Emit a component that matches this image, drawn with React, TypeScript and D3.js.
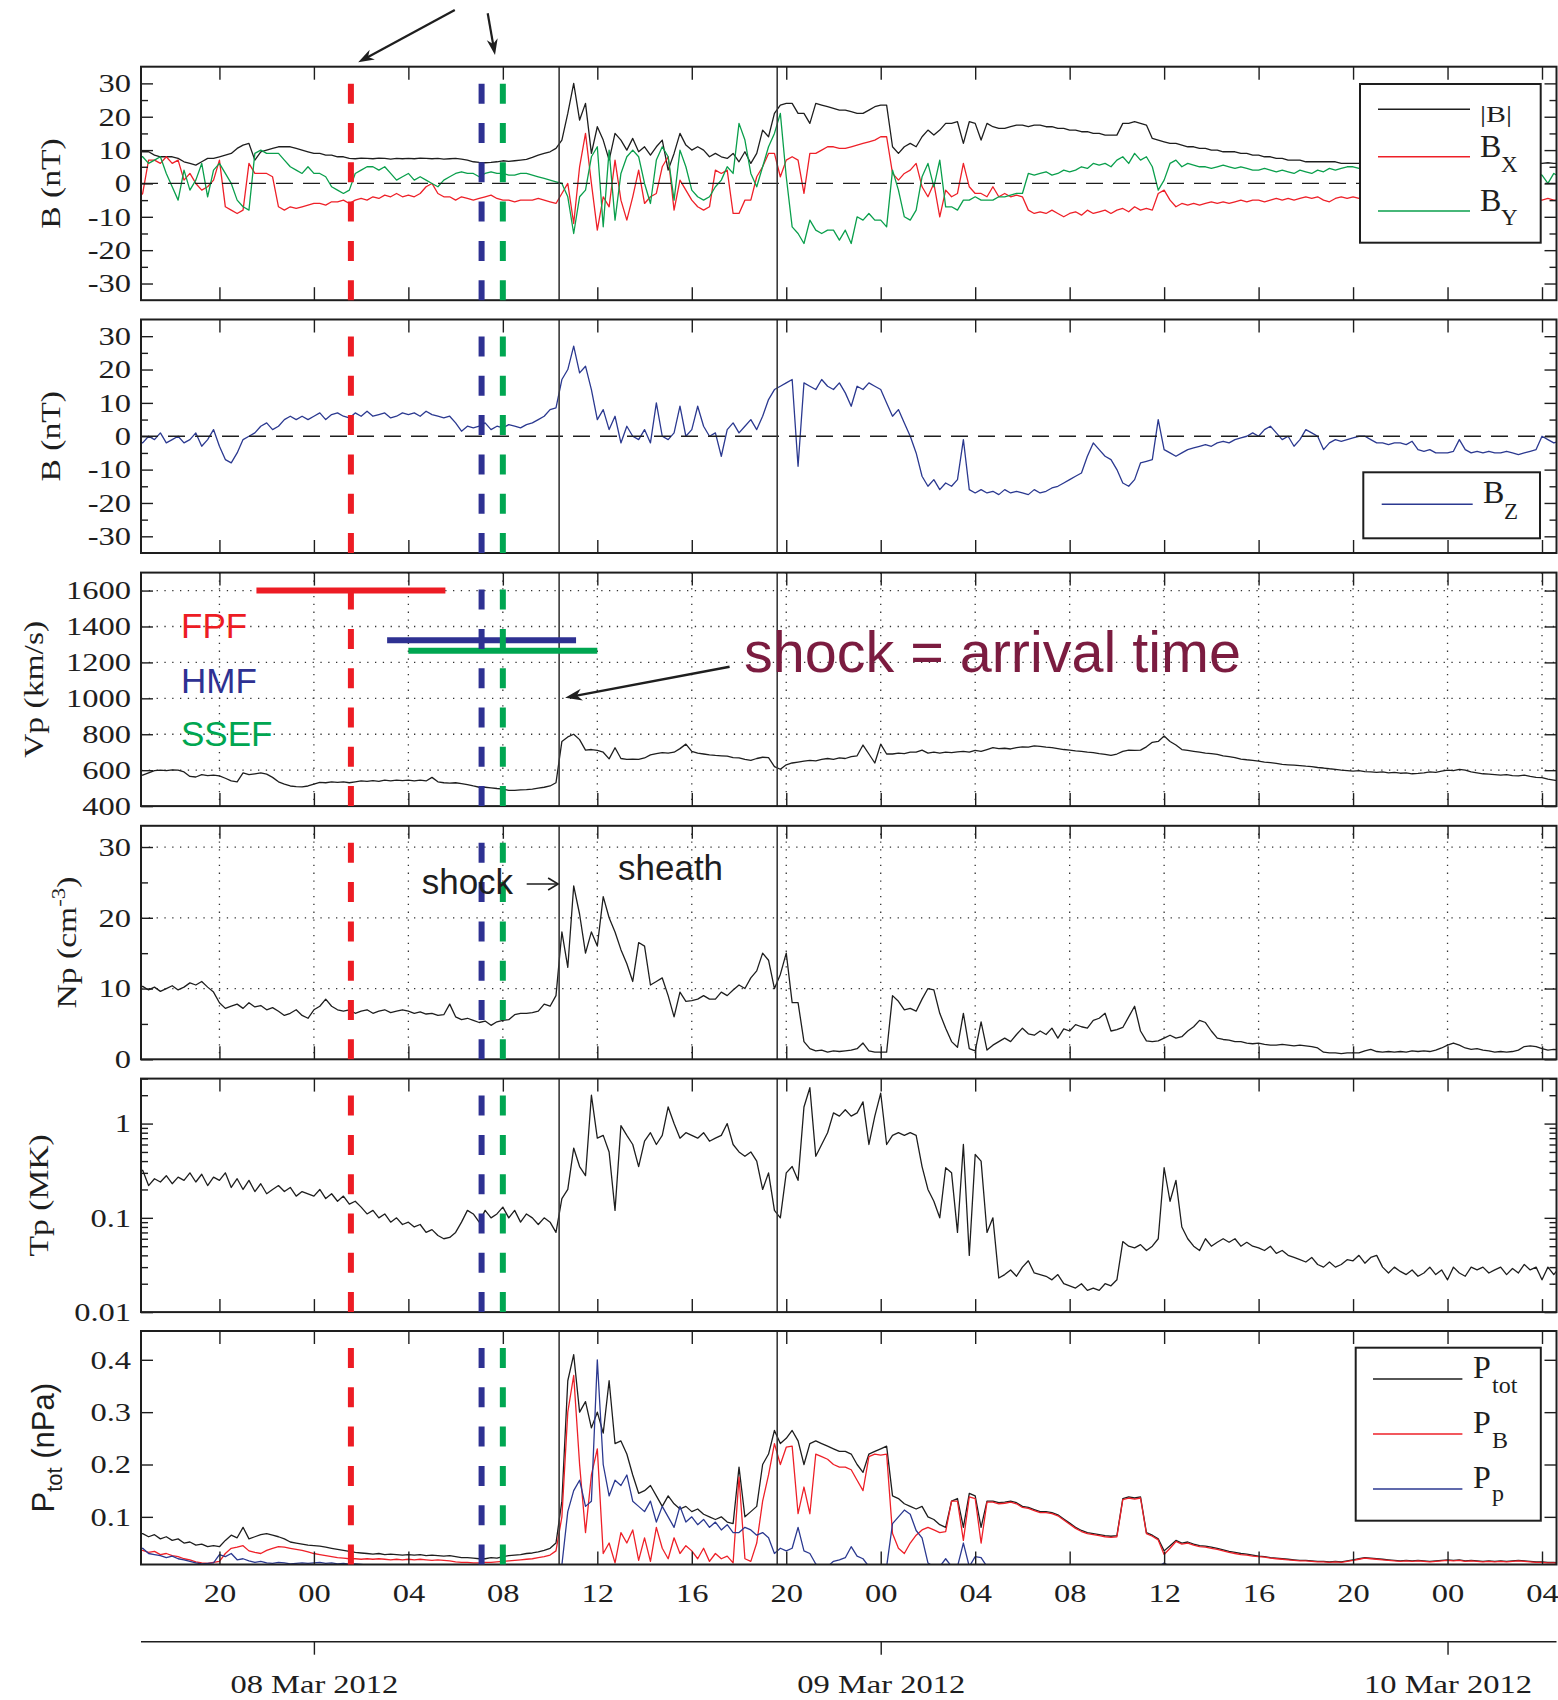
import React, { useEffect, useRef } from 'react';
import * as d3 from 'd3';

// 15-minute samples, first one at 07 Mar 2012 16:00 UT
const sampleStart = Date.UTC(2012, 2, 7, 16, 0);
const sampleStepMin = 15;

// |B| (nT)
const bMag = [
  10, 10, 10, 9.5, 9.5, 8.5, 8, 8, 8, 7.5, 6.5, 6, 5.5, 6.5, 7.5, 7.5,
  8, 8.5, 9, 10.5, 11.5, 12, 7, 9.5, 10, 10.5, 11, 11, 11, 10.5, 10, 9.5,
  9, 9, 8.5, 8.5, 8, 8, 7.5, 7.4, 7.6, 7.5, 7.4, 7.6, 7.5, 7.3, 7.5, 7.4,
  7.5, 7.4, 7.6, 7.5, 7.4, 7.5, 7.3, 7.4, 7.5, 7.3, 7.0, 6.5, 6.3, 6.2, 6.3, 6.5,
  6.8, 6.6, 6.8, 7, 7.2, 7.8, 8.5, 9, 9.5, 10.5, 13, 21, 30, 19, 24, 9,
  17, 13, 7, 15, 13, 10, 13.5, 9.5, 11, 8.5, 11, 13, 4, 9, 15, 11.5,
  10, 11, 10, 8, 9, 8, 7.5, 9, 6.5, 9.5, 6, 9, 16, 14, 21, 23.5,
  24, 24, 21, 21, 18, 24, 23.5, 23, 22.5, 22, 22, 21.5, 21, 21, 22, 23,
  23.5, 23.5, 11, 9, 11, 12, 11, 14, 16, 14.5, 16, 18, 18, 18.5, 12, 18.5,
  18, 13, 18, 17, 16.5, 16.5, 17, 17.5, 17.5, 17, 17.5, 17.5, 17, 17, 16.5, 16.5,
  16, 16, 15.5, 15.5, 15, 15, 14.5, 14.5, 14.5, 18, 18, 18.5, 18, 17.5, 13.5, 13,
  12.5, 12, 12, 11.5, 11, 11, 10.5, 10.5, 10, 10, 9.5, 9.5, 9.5, 9, 9, 8.5,
  8.5, 8, 8, 7.5, 7.5, 7, 7, 7, 6.5, 6.5, 6.5, 6.5, 6.5, 6.5, 6, 6,
  6, 6, 6, 5.8, 5.8, 5.6, 5.6, 5.5, 5.5, 5.4, 5.4, 5.3, 5.3, 5.3, 5.2, 5.2,
  5.2, 5.2, 5.3, 5.3, 5.4, 5.4, 5.5, 5.5, 5.6, 5.6, 5.7, 5.8, 5.8, 5.9, 6, 6,
  6, 6.2, 6, 6, 6,
];

// Bx (nT)
const bX = [
  -5, -5, -5, -3, 7, 7, 6, 8, 6, 7, 1, 3, 0, -2, -1, 1,
  7, -7, -8, -9, -8, 6, 3, 3, 3, 2, -7, -8, -7, -7.5, -7, -6.5,
  -6, -6, -6.5, -5.5, -5.5, -5, -6, -5, -4.5, -5, -4, -4.5, -3.5, -4, -3, -4,
  -3.5, -4, -3, -1, 0, -3, -4, -4, -5, -4, -4.5, -5, -4.5, -4, -3.5, -4.5,
  -5, -5, -5.5, -5, -5, -5, -4.5, -5, -5.5, -6, -3, 0, -12, 5, 15, 0,
  -14, -4, -7, 7, -5, -11, -4, 4, -6, -4, -3, 5, 8, -8, 1, -2,
  -5, -7, -8, -7, 4, 3, 4, -9, -9, -5, -5, 2, 5, 9, 9, 2,
  7, 8, 7, -3, 9, 9, 10, 11, 11, 10.5, 10.5, 11, 11.5, 12, 12.5, 13,
  14, 14, 3, 1, 3, 4, 6, -1, -4, 0, -10, -2, -4, -3, 6, -1,
  -3, -3, -4, -1, -4, -3, -4, -3.5, -4, -8, -9, -8.5, -9, -8, -9, -10,
  -9, -8.5, -9.5, -8, -9, -8.5, -8, -9, -8, -7.5, -8.5, -7, -8, -7.5, -8, -3,
  -2, -5, -7, -6, -6.5, -6, -6.5, -6, -5.5, -6, -5.5, -6, -5.5, -5, -5.5, -5,
  -5, -5.5, -5, -4.5, -5, -4.5, -5, -4.5, -4, -4.5, -4, -5, -5.5, -4.5, -4, -4.5,
  -4, -4.5, -4, -3.5, -4, -3.5, -4, -3.5, -3, -3.5, -3, -3.5, -3, -3.5, -3, -3,
  -3, -3.5, -3, -3.5, -3, -3.5, -4, -3.5, -4, -4.5, -4, -4.5, -5, -4.5, -5, -5,
  -5, -4.5, -5, -5, -5,
];

// By (nT)
const bY = [
  8, 8, 8, 8, 6, 7, 8, 3, -1, -5, 4, -2, 1, 6, -4, 4,
  6, 3, 0, -5, -7, -8, 9, 10, 9, 9, 9, 7, 5, 4, 3, 5,
  3, 3, 2, -1, -2, -3, -2, 3, 4, 5, 5, 4, 5, 3, 1, 2,
  3, 1, 2, 1, 0, -1, 1, 2, 3, 3.5, 3, 3, 2, 3, 3.5, 3,
  3, 2.5, 2.5, 3, 3, 2.5, 2, 1.5, 1, 0.5, 0, -4, -15, -4, -2, 8,
  11, -13, 10, -11, 3, 8, 10, 8, 0, -6, 7, 11, 8, -5, 10, 5,
  -2, -4, -5, -4, -1, 1, 5, 3, 18, 13, 3, -1, 5, 11, 15, 21,
  2, -13, -15, -18, -11, -14, -15, -14, -14, -17, -14, -18, -10, -11, -9, -11,
  -11, -13, 4, -2, -10, -11, -8, 2, 6, -1, 7, -7, -7, -8, -5, -5,
  -4, -5, -5, -5, -4, -4, -3.5, -3, -3, 3, 2.5, 3, 3.5, 2.5, 3, 4,
  3.5, 4, 5, 4.5, 6, 5.5, 6, 5, 7, 8, 6, 9, 7, 8, 5, -2,
  1, 6, 7, 5, 6, 5.5, 5, 5, 4.5, 5, 5.5, 5, 4.5, 5, 4.5, 4,
  4, 4.5, 4, 3.5, 4, 3.5, 3, 4, 3.5, 3, 4, 3.5, 4.5, 4, 4.5, 5,
  5, 4.5, 5, 4.5, 4, 4.5, 4, 4.5, 4, 4.5, 4, 3.5, 4, 3.5, 4, 3.5,
  3.5, 4, 3.5, 4, 3.5, 3, 3.5, 3, 3.5, 3, 2.5, 3, 2.5, 3, 2.5, 3,
  2.5, 0, 3, 2, 2,
];

// Bz (nT)
const bZ = [
  0, 0, -1, -2, 0, -1, 1, -2, -1, 0, -2, -1, 1, -3, -1, 2,
  -3, -7, -8, -5, -1, 0, 1, 3, 4, 2, 3, 5, 6, 5, 6, 5,
  6, 7, 5, 6.5, 7, 6, 5.5, 7, 6, 7.5, 6, 6.5, 7, 5.5, 6, 7,
  6.5, 7, 6, 7.5, 6.5, 6, 5.5, 6, 4, 1.5, 3, 2.5, 3, 4, 2, 3,
  2.5, 3.5, 3, 2.5, 3.5, 4, 5, 6, 8, 8.5, 17, 20, 27, 19, 21, 14,
  5, 8, 2, 6, -2, 3, 0, -1, 2, -2, 10, 0, -1, 1, 9, 0,
  2, 9, 3, 0, 1, -6, 2, 4, 1, 3, 5, 2, 6, 11, 14, 15,
  16, 17, -9, 16, 15, 14, 17, 15, 14, 16, 13, 9, 15, 14, 16, 15,
  14, 10, 6, 8, 4, 0, -5, -12, -15, -13, -16, -14, -15, -13, -1, -16,
  -17, -16, -17, -16.5, -17.5, -16, -17, -16.5, -17, -17.5, -16, -17, -16.5, -15.5, -15, -14,
  -13, -12, -11, -6, -2, -4, -6, -7, -10, -14, -15, -13, -8, -7.5, -7, 5,
  -4, -5, -6, -5, -4, -3.5, -3, -2.5, -3, -2, -1.5, -2, -1, -0.5, 0, 1,
  0, 2, 3, 1, -1, 0, -3, -1, 2, 1, 0, -4, -2, -1, -1.5, -1,
  -0.5, 0, 0, -1, -2, -2, -2.5, -2, -2, -2.5, -1.5, -4, -4.5, -4, -5, -5,
  -5, -4.5, -1, -4, -5, -4.5, -5, -4.5, -5, -5, -4.5, -5, -5.5, -5, -4.5, -4,
  0, -1, -2, -1.5, -1,
];

// proton speed (km/s)
const vP = [
  571, 571, 571, 572, 585, 598, 600, 598, 602, 600, 590, 565, 562, 575, 570, 572,
  568, 555, 540, 535, 585, 575, 580, 585, 578, 560, 535, 522, 512, 508, 507, 512,
  522, 532, 530, 535, 532, 535, 530, 535, 540, 538, 542, 538, 545, 540, 545, 542,
  545, 540, 545, 540, 560, 535, 530, 528, 530, 525, 520, 512, 505, 505, 502, 498,
  495, 488, 487, 490, 492, 495, 500, 505, 512, 530, 760, 785, 800, 770, 712, 715,
  710, 700, 663, 725, 665, 660, 662, 660, 668, 685, 692, 698, 695, 700, 720, 745,
  705, 695, 690, 685, 682, 680, 678, 670, 668, 660, 655, 665, 672, 670, 620, 605,
  630, 640, 645, 650, 655, 652, 660, 665, 660, 668, 665, 675, 680, 740, 690, 640,
  745, 690, 690, 695, 692, 700, 700, 712, 695, 700, 695, 700, 698, 702, 705, 700,
  710, 705, 715, 725, 720, 722, 718, 725, 730, 728, 735, 732, 728, 725, 720, 715,
  712, 708, 705, 700, 698, 692, 688, 682, 690, 705, 712, 710, 712, 730, 755, 760,
  790, 760, 740, 715, 710, 705, 700, 695, 692, 688, 680, 675, 670, 662, 658, 655,
  650, 645, 642, 638, 632, 630, 628, 625, 622, 620, 615, 612, 608, 605, 600, 598,
  595, 598, 592, 590, 588, 590, 585, 588, 583, 585, 580, 582, 585, 590, 588, 595,
  600, 598, 605, 600, 590, 585, 580, 578, 575, 572, 575, 570, 568, 572, 565, 560,
  558, 550, 545, 540, 540,
];

// proton density (cm^-3)
const nP = [
  10, 10, 10, 10.3, 9.8, 10.2, 9.6, 10, 10.4, 9.8, 10.2, 10.8, 10.5, 11, 10.2, 9.5,
  8, 7.2, 7.5, 7.8, 7.2, 8, 7.4, 7.6, 7, 7.3, 6.8, 6.2, 6.5, 7, 6.2, 5.8,
  7, 7.5, 8.5, 7.5, 7, 6.8, 7, 6.5, 6.8, 7, 6.5, 6.8, 7, 6.6, 6.8, 7,
  6.8, 6.5, 6.7, 6.4, 6.5, 6.2, 6.3, 7.8, 6, 5.6, 5.8, 5.5, 5.2, 5.4, 4.8, 5.3,
  5.5, 5.6, 6.3, 6.5, 6.5, 6.6, 6.8, 7.8, 7.5, 9, 18, 13, 24.5, 20.5, 15, 18,
  16, 23, 20, 18, 15.5, 13.5, 11, 16.5, 16, 10.5, 11, 11.5, 9, 6, 9.5, 8.2,
  8.3, 8.5, 9, 8.5, 8.5, 9.5, 9, 9.8, 10.5, 10, 11.5, 12.5, 15, 14, 10, 12,
  15, 8, 8, 2.5, 1.5, 1.2, 1.3, 1.0, 1.2, 1.1, 1.2, 1.3, 1.5, 2.3, 1.2, 1.0,
  1.0, 1.0, 9, 8.2, 7, 7.2, 6.8, 8.5, 10, 9.8, 6.5, 4.4, 2.5, 1.7, 6.5, 1.5,
  1.2, 5.3, 1.3, 2.0, 2.5, 3, 2.5, 3.5, 4.4, 3.6, 3.4, 4, 3.5, 4.4, 3, 4.3,
  4, 4.9, 4.6, 4.4, 5.5, 5.8, 6.5, 4, 4.2, 4.5, 6, 7.5, 4, 2.6, 2.5, 2.6,
  3, 3.4, 3, 3.2, 4, 4.6, 5.5, 5.2, 4.0, 3, 2.8, 2.7, 2.5, 2.5, 2.3, 2.2,
  2.3, 2.1, 2.0, 2.0, 2.1, 2.0, 1.9, 2.0, 1.9, 1.8, 1.6, 1.0, 0.9, 0.9, 0.8, 0.9,
  0.9, 0.9, 1.2, 1.4, 1.1, 1.0, 1.1, 1.0, 1.1, 1.0, 1.2, 1.1, 1.2, 1.1, 1.3, 1.6,
  2.0, 2.3, 2.0, 1.6, 1.4, 1.5, 1.3, 1.2, 1.0, 1.1, 1.0, 1.1, 1.3, 1.8, 1.9, 1.8,
  1.5, 1.3, 1.4, 1.3, 1.3,
];

// proton temperature (MK)
const tP = [
  0.3, 0.3, 0.3, 0.32, 0.22, 0.26, 0.24, 0.28, 0.23, 0.27, 0.25, 0.3, 0.24, 0.29, 0.22, 0.27,
  0.25, 0.3, 0.21, 0.26, 0.2, 0.25, 0.19, 0.23, 0.18, 0.2, 0.22, 0.19, 0.21, 0.17, 0.19, 0.18,
  0.17, 0.2, 0.16, 0.18, 0.15, 0.17, 0.14, 0.15, 0.13, 0.11, 0.12, 0.1, 0.11, 0.09, 0.1, 0.085,
  0.09, 0.08, 0.085, 0.07, 0.075, 0.065, 0.06, 0.062, 0.07, 0.09, 0.12, 0.11, 0.09, 0.12, 0.1, 0.11,
  0.13, 0.1, 0.12, 0.09, 0.11, 0.1, 0.085, 0.1, 0.09, 0.07, 0.16, 0.2, 0.55, 0.35, 0.28, 2.0,
  0.7, 0.75, 0.5, 0.12, 0.95, 0.75, 0.6, 0.35, 0.65, 0.8, 0.6, 0.75, 1.5, 1.0, 0.7, 0.8,
  0.75, 0.7, 0.8, 0.65, 0.7, 0.75, 1.0, 0.6, 0.5, 0.45, 0.5, 0.4, 0.2, 0.3, 0.12, 0.1,
  0.3, 0.35, 0.25, 1.5, 2.4, 0.45, 0.6, 0.8, 1.3, 1.2, 1.4, 1.2, 1.3, 1.7, 0.6, 1.2,
  2.1, 0.6, 0.75, 0.8, 0.75, 0.8, 0.75, 0.35, 0.2, 0.15, 0.1, 0.34, 0.3, 0.07, 0.6, 0.04,
  0.47, 0.4, 0.07, 0.1, 0.023, 0.025, 0.028, 0.024, 0.03, 0.035, 0.026, 0.025, 0.024, 0.022, 0.025, 0.02,
  0.019, 0.018, 0.02, 0.017, 0.018, 0.017, 0.02, 0.019, 0.022, 0.056, 0.05, 0.048, 0.052, 0.045, 0.05, 0.06,
  0.34, 0.15, 0.25, 0.08, 0.06, 0.05, 0.045, 0.06, 0.05, 0.055, 0.06, 0.055, 0.06, 0.05, 0.055, 0.05,
  0.048, 0.045, 0.05, 0.042, 0.045, 0.04, 0.038, 0.036, 0.034, 0.038, 0.032, 0.03, 0.034, 0.03, 0.032, 0.036,
  0.035, 0.04, 0.033, 0.038, 0.04, 0.03, 0.026, 0.03, 0.027, 0.025, 0.028, 0.024, 0.026, 0.03, 0.025, 0.028,
  0.022, 0.03, 0.026, 0.024, 0.03, 0.028, 0.03, 0.026, 0.028, 0.03, 0.025, 0.029, 0.026, 0.032, 0.028, 0.03,
  0.022, 0.03, 0.025, 0.03, 0.028,
];

// total, magnetic and plasma pressure (nPa)
const pTot = [
  0.068, 0.068, 0.068, 0.068, 0.062, 0.066, 0.058, 0.062, 0.055, 0.058, 0.05, 0.052, 0.046, 0.048, 0.043, 0.045,
  0.043, 0.055, 0.065, 0.06, 0.08, 0.058, 0.062, 0.066, 0.068, 0.065, 0.062, 0.058, 0.052, 0.05, 0.048, 0.046,
  0.045, 0.044, 0.042, 0.04, 0.038, 0.036, 0.034, 0.032, 0.031, 0.03, 0.029, 0.03, 0.028, 0.029, 0.028, 0.027,
  0.028, 0.027, 0.028, 0.026, 0.027, 0.026, 0.025, 0.026, 0.024, 0.022, 0.022, 0.021, 0.02, 0.02, 0.022, 0.021,
  0.024, 0.026, 0.027, 0.028, 0.03, 0.031, 0.033, 0.036, 0.04, 0.05, 0.13, 0.36, 0.41, 0.3, 0.32, 0.27,
  0.3, 0.26, 0.36, 0.24, 0.245, 0.22, 0.18, 0.145, 0.15, 0.16, 0.14, 0.12, 0.14, 0.125, 0.115, 0.12,
  0.11, 0.115, 0.105, 0.1, 0.095, 0.1, 0.09, 0.087, 0.195, 0.1, 0.11, 0.12, 0.2, 0.22, 0.265, 0.24,
  0.25, 0.265, 0.245, 0.2, 0.24, 0.245, 0.24, 0.235, 0.23, 0.225, 0.225, 0.22, 0.2, 0.185, 0.22, 0.225,
  0.23, 0.235, 0.14, 0.135, 0.125, 0.12, 0.115, 0.12, 0.1, 0.095, 0.085, 0.08, 0.13, 0.135, 0.08, 0.145,
  0.14, 0.08, 0.13, 0.13, 0.127, 0.128, 0.13, 0.127, 0.12, 0.118, 0.114, 0.11, 0.11, 0.108, 0.104, 0.096,
  0.088, 0.08, 0.074, 0.07, 0.068, 0.066, 0.064, 0.063, 0.064, 0.135, 0.138, 0.136, 0.138, 0.07, 0.065, 0.058,
  0.035, 0.045, 0.055, 0.05, 0.052, 0.048, 0.045, 0.044, 0.042, 0.04, 0.037, 0.034, 0.032, 0.03, 0.029, 0.027,
  0.025, 0.024, 0.022, 0.021, 0.02, 0.019, 0.018, 0.017, 0.017, 0.016, 0.015, 0.015, 0.014, 0.015, 0.014, 0.016,
  0.018, 0.02, 0.022, 0.021, 0.02, 0.019, 0.018, 0.017, 0.016, 0.017, 0.016, 0.017, 0.016, 0.015, 0.016, 0.017,
  0.018, 0.017, 0.018, 0.016, 0.017, 0.016, 0.015, 0.016, 0.015, 0.016, 0.015, 0.016, 0.017, 0.016, 0.015, 0.014,
  0.014, 0.013, 0.013, 0.012, 0.012,
];

const pB = [
  0.036, 0.036, 0.036, 0.036, 0.032, 0.034, 0.028, 0.03, 0.026, 0.024, 0.02, 0.018, 0.014, 0.012, 0.011, 0.013,
  0.015, 0.03, 0.04, 0.042, 0.045, 0.035, 0.032, 0.03, 0.036, 0.04, 0.043, 0.042, 0.04, 0.038, 0.036, 0.033,
  0.03, 0.028, 0.026, 0.024, 0.022, 0.021, 0.02, 0.02, 0.019, 0.02, 0.019, 0.02, 0.019, 0.018, 0.019, 0.018,
  0.019, 0.018, 0.019, 0.018, 0.017, 0.018, 0.017, 0.016, 0.014, 0.013, 0.013, 0.012, 0.012, 0.013, 0.013, 0.014,
  0.015, 0.016, 0.017, 0.018, 0.019, 0.02, 0.022, 0.024, 0.027, 0.035, 0.1, 0.3, 0.37, 0.2, 0.07, 0.18,
  0.23, 0.03, 0.05, 0.012, 0.07, 0.05, 0.075, 0.017, 0.06, 0.015, 0.08, 0.04, 0.02, 0.06, 0.03, 0.045,
  0.035, 0.02, 0.04, 0.015, 0.03, 0.02, 0.025, 0.012, 0.176, 0.02, 0.015, 0.05, 0.13, 0.18, 0.24, 0.2,
  0.233, 0.235, 0.106, 0.157, 0.106, 0.22, 0.215, 0.21, 0.2, 0.195, 0.195, 0.19, 0.17, 0.15, 0.215, 0.22,
  0.218, 0.22, 0.068, 0.04, 0.03, 0.05, 0.065, 0.075, 0.08, 0.075, 0.07, 0.072, 0.13, 0.13, 0.055, 0.138,
  0.135, 0.05, 0.128, 0.128, 0.125, 0.126, 0.128, 0.125, 0.118, 0.116, 0.112, 0.108, 0.108, 0.106, 0.102, 0.094,
  0.086, 0.078, 0.072, 0.068, 0.066, 0.064, 0.062, 0.061, 0.062, 0.133, 0.136, 0.134, 0.136, 0.068, 0.063, 0.056,
  0.028, 0.04, 0.053, 0.048, 0.05, 0.046, 0.043, 0.042, 0.04, 0.038, 0.035, 0.032, 0.03, 0.028, 0.027, 0.025,
  0.024, 0.023, 0.021, 0.02, 0.019, 0.018, 0.017, 0.016, 0.016, 0.015, 0.014, 0.014, 0.013, 0.014, 0.013, 0.015,
  0.017, 0.019, 0.021, 0.02, 0.019, 0.018, 0.017, 0.016, 0.015, 0.016, 0.015, 0.016, 0.015, 0.014, 0.015, 0.016,
  0.017, 0.016, 0.017, 0.015, 0.016, 0.015, 0.014, 0.015, 0.014, 0.015, 0.014, 0.015, 0.016, 0.015, 0.014, 0.013,
  0.013, 0.012, 0.012, 0.011, 0.011,
];

const pP = [
  0.035, 0.035, 0.035, 0.04, 0.03, 0.028, 0.026, 0.022, 0.025, 0.02, 0.018, 0.015, 0.012, 0.01, 0.011, 0.012,
  0.028, 0.024, 0.03, 0.018, 0.02, 0.016, 0.013, 0.015, 0.012, 0.011, 0.013, 0.012, 0.01, 0.011, 0.012, 0.011,
  0.012, 0.013, 0.011, 0.012, 0.01, 0.011, 0.0095, 0.01, 0.009, 0.008, 0.007, 0.006, 0.006, 0.005, 0.005, 0.005,
  0.005, 0.005, 0.005, 0.005, 0.005, 0.005, 0.005, 0.005, 0.005, 0.005, 0.005, 0.005, 0.005, 0.005, 0.005, 0.005,
  0.005, 0.005, 0.005, 0.005, 0.005, 0.005, 0.005, 0.005, 0.005, 0.005, 0.008, 0.11, 0.15, 0.17, 0.12, 0.13,
  0.4, 0.2, 0.14, 0.17, 0.16, 0.18, 0.13, 0.12, 0.11, 0.13, 0.09, 0.12, 0.1, 0.08, 0.12, 0.09,
  0.1, 0.085, 0.095, 0.08, 0.09, 0.075, 0.085, 0.07, 0.07, 0.08, 0.075, 0.065, 0.07, 0.06, 0.03, 0.04,
  0.035, 0.04, 0.08, 0.035, 0.03, 0.01, 0.005, 0.005, 0.015, 0.018, 0.022, 0.043, 0.025, 0.02, 0.005, 0.005,
  0.005, 0.005, 0.087, 0.1, 0.113, 0.105, 0.074, 0.06, 0.012, 0.005, 0.005, 0.02, 0.005, 0.005, 0.05, 0.005,
  0.024, 0.022, 0.005, 0.005, 0.005, 0.005, 0.005, 0.005, 0.005, 0.005, 0.005, 0.005, 0.005, 0.005, 0.005, 0.005,
  0.005, 0.005, 0.005, 0.005, 0.005, 0.005, 0.005, 0.005, 0.005, 0.005, 0.005, 0.005, 0.005, 0.005, 0.005, 0.005,
  0.012, 0.005, 0.005, 0.005, 0.005, 0.005, 0.005, 0.005, 0.005, 0.005, 0.005, 0.005, 0.005, 0.005, 0.005, 0.005,
  0.005, 0.005, 0.005, 0.005, 0.005, 0.005, 0.005, 0.005, 0.005, 0.005, 0.005, 0.005, 0.005, 0.005, 0.005, 0.005,
  0.005, 0.005, 0.005, 0.005, 0.005, 0.005, 0.005, 0.005, 0.005, 0.005, 0.005, 0.005, 0.005, 0.005, 0.005, 0.005,
  0.005, 0.005, 0.005, 0.005, 0.005, 0.005, 0.005, 0.005, 0.005, 0.005, 0.005, 0.005, 0.005, 0.005, 0.005, 0.005,
  0.005, 0.005, 0.005, 0.005, 0.005,
];

// predicted arrivals (dashed lines) and their +-4 h windows drawn in the Vp panel
const modelNames = ['FPF', 'HMF', 'SSEF'];
const modelTimes = [Date.UTC(2012, 2, 8, 1, 34), Date.UTC(2012, 2, 8, 7, 6), Date.UTC(2012, 2, 8, 8, 0)];
const modelBarSpeeds = [1600, 1323, 1265];
const modelColors = ['#ed1c24', '#2e3192', '#00a651'];
const windowHours = 4;

// observed shock and second discontinuity
const shockTimes = [Date.UTC(2012, 2, 8, 10, 23), Date.UTC(2012, 2, 8, 19, 37)];
const dayTicks = [Date.UTC(2012, 2, 8), Date.UTC(2012, 2, 9), Date.UTC(2012, 2, 10)];

const viewStart = Date.UTC(2012, 2, 7, 16, 40, 44);
const viewEnd = Date.UTC(2012, 2, 10, 4, 36, 50);

const plotLeft = 141;
const plotRight = 1556.5;
const panelTops = [66.7, 319.5, 572.6, 825.8, 1078.6, 1331];
const panelH = 233.5;

const serif = "'Liberation Serif', 'Times New Roman', serif";
const sans = "'Liberation Sans', Arial, sans-serif";
const ink = '#1e1e1e';

const SolarWindPanels = () => {
  const svgRef = useRef(null);

  useEffect(() => {
    const svg = d3.select(svgRef.current);
    svg.selectAll('*').remove();

    const pw = plotRight - plotLeft;
    const x = d3.scaleUtc().domain([new Date(viewStart), new Date(viewEnd)]).range([0, pw]);
    const at = (i) => new Date(sampleStart + i * sampleStepMin * 60000);
    const hourTicks = x.ticks(d3.utcHour.every(4));
    const num = (d) => String(d);

    const logY = d3.scaleLog().domain([0.01, 3]).range([panelH, 0]);
    const isDecade = (v) => Math.abs(Math.log10(v) - Math.round(Math.log10(v))) < 1e-9;

    const panels = [
      {
        y: d3.scaleLinear().domain([-35, 35]).range([panelH, 0]),
        major: [-30, -20, -10, 0, 10, 20, 30], minor: [-25, -15, -5, 5, 15, 25],
        series: [[bMag, ink], [bX, '#ee2028'], [bY, '#0a9f4c']], zero: true, grid: false,
      },
      {
        y: d3.scaleLinear().domain([-35, 35]).range([panelH, 0]),
        major: [-30, -20, -10, 0, 10, 20, 30], minor: [-25, -15, -5, 5, 15, 25],
        series: [[bZ, '#2b3990']], zero: true, grid: false,
      },
      {
        y: d3.scaleLinear().domain([400, 1700]).range([panelH, 0]),
        major: [400, 600, 800, 1000, 1200, 1400, 1600], minor: [],
        series: [[vP, ink]], zero: false, grid: true,
      },
      {
        y: d3.scaleLinear().domain([0, 33]).range([panelH, 0]),
        major: [0, 10, 20, 30], minor: [5, 15, 25],
        series: [[nP, ink]], zero: false, grid: true,
      },
      {
        y: logY,
        major: logY.ticks().filter(isDecade), minor: logY.ticks().filter((v) => !isDecade(v)),
        series: [[tP, ink]], zero: false, grid: false,
      },
      {
        y: d3.scaleLinear().domain([0.009, 0.455]).range([panelH, 0]),
        major: [0.1, 0.2, 0.3, 0.4], minor: [],
        series: [[pTot, ink], [pB, '#ee2028'], [pP, '#2b3990']], zero: false, grid: false,
      },
    ];

    const styleAxis = (sel) => {
      sel.attr('font-family', serif).attr('font-size', 26);
      sel.select('.domain').remove();
      sel.selectAll('.tick line').attr('stroke', ink).attr('stroke-width', 1.4);
      sel.selectAll('.tick text').attr('fill', ink).attr('transform', 'scale(1.25,1)');
    };

    panels.forEach((p, k) => {
      const g = svg.append('g').attr('transform', `translate(${plotLeft},${panelTops[k]})`);
      const y = p.y;
      const clipId = `panel-clip-${k}`;
      g.append('clipPath').attr('id', clipId)
        .append('rect').attr('width', pw).attr('height', panelH);

      // dotted grid
      if (p.grid) {
        const grid = g.append('g')
          .attr('stroke', '#333').attr('stroke-width', 1.3).attr('stroke-dasharray', '1.3 6.5');
        hourTicks.forEach((d) => {
          grid.append('line').attr('x1', x(d)).attr('x2', x(d)).attr('y1', 0).attr('y2', panelH);
        });
        p.major.filter((v) => y(v) > 2 && y(v) < panelH - 2).forEach((v) => {
          grid.append('line').attr('x1', 0).attr('x2', pw).attr('y1', y(v)).attr('y2', y(v));
        });
      }

      // data
      const lines = g.append('g').attr('clip-path', `url(#${clipId})`);
      p.series.forEach(([vals, color]) => {
        const line = d3.line().x((_, i) => x(at(i))).y((d) => y(d));
        lines.append('path')
          .attr('d', line(vals))
          .attr('fill', 'none')
          .attr('stroke', color)
          .attr('stroke-width', 1.3)
          .attr('stroke-linejoin', 'round');
      });

      if (p.zero) {
        g.append('line')
          .attr('x1', 0).attr('x2', pw).attr('y1', y(0)).attr('y2', y(0))
          .attr('stroke', ink).attr('stroke-width', 1.3).attr('stroke-dasharray', '17 10');
      }

      shockTimes.forEach((s) => {
        g.append('line')
          .attr('x1', x(new Date(s))).attr('x2', x(new Date(s)))
          .attr('y1', 0).attr('y2', panelH)
          .attr('stroke', '#3a3a3a').attr('stroke-width', 1.6);
      });

      // axes
      g.append('g').call(d3.axisLeft(y).tickValues(p.major).tickSize(-12).tickPadding(8).tickFormat(num)).call(styleAxis);
      if (p.minor.length) {
        g.append('g').call(d3.axisLeft(y).tickValues(p.minor).tickSize(-7).tickFormat(() => '')).call(styleAxis);
        g.append('g').attr('transform', `translate(${pw},0)`)
          .call(d3.axisRight(y).tickValues(p.minor).tickSize(-7).tickFormat(() => '')).call(styleAxis);
      }
      g.append('g').attr('transform', `translate(${pw},0)`)
        .call(d3.axisRight(y).tickValues(p.major).tickSize(-12).tickFormat(() => '')).call(styleAxis);
      g.append('g').call(d3.axisTop(x).tickValues(hourTicks).tickSize(-13).tickFormat(() => '')).call(styleAxis);
      g.append('g').attr('transform', `translate(0,${panelH})`)
        .call(d3.axisBottom(x).tickValues(hourTicks).tickSize(-13).tickPadding(19)
          .tickFormat(k === panels.length - 1 ? d3.utcFormat('%H') : () => ''))
        .call(styleAxis);

      g.append('rect')
        .attr('width', pw).attr('height', panelH)
        .attr('fill', 'none').attr('stroke', ink).attr('stroke-width', 2);

      // prediction windows in the speed panel
      if (k === 2) {
        modelTimes.forEach((mt, j) => {
          const hw = windowHours * 3600000;
          g.append('line')
            .attr('x1', x(new Date(mt - hw))).attr('x2', x(new Date(mt + hw)))
            .attr('y1', y(modelBarSpeeds[j])).attr('y2', y(modelBarSpeeds[j]))
            .attr('stroke', modelColors[j]).attr('stroke-width', 6);
        });
      }

      // predicted arrival times
      modelTimes.forEach((mt, j) => {
        g.append('line')
          .attr('x1', x(new Date(mt))).attr('x2', x(new Date(mt)))
          .attr('y1', panelH).attr('y2', 0)
          .attr('stroke', modelColors[j]).attr('stroke-width', 6)
          .attr('stroke-dasharray', '20 19.3');
      });
    });

    // date axis
    const dateAxis = svg.append('g').attr('transform', `translate(${plotLeft},1641.7)`);
    dateAxis.append('line').attr('x1', 0).attr('x2', pw).attr('stroke', ink).attr('stroke-width', 1.6);
    dateAxis.append('g')
      .call(d3.axisBottom(x).tickValues(dayTicks.map((d) => new Date(d))).tickSize(13).tickPadding(20)
        .tickFormat(d3.utcFormat('%d %b %Y')))
      .call(styleAxis);

    // y labels
    const yLabel = (cx, cy, family, size, parts) => {
      const txt = svg.append('g')
        .attr('transform', `translate(${cx},${cy}) rotate(-90) scale(${family === serif ? 1.2 : 1},1)`)
        .append('text')
        .attr('text-anchor', 'middle')
        .attr('font-family', family)
        .attr('font-size', size)
        .attr('fill', ink);
      parts.forEach(([s, dy, fs]) => {
        const t = txt.append('tspan').text(s);
        if (dy) t.attr('dy', dy);
        if (fs) t.attr('font-size', fs);
      });
    };
    const mid = (k) => panelTops[k] + panelH / 2;
    yLabel(60, mid(0), serif, 28, [['B (nT)']]);
    yLabel(60, mid(1), serif, 28, [['B (nT)']]);
    yLabel(43, mid(2), serif, 28, [['Vp (km/s)']]);
    yLabel(76, mid(3), serif, 28, [['Np (cm'], ['-3', -11, 19], [')', 11]]);
    yLabel(48, mid(4), serif, 28, [['Tp (MK)']]);
    yLabel(54, mid(5), sans, 31, [['P'], ['tot', 8, 22], [' (nPa)', -8, 31]]);

    // legends
    const legendBox = (x0, y0, x1, y1) => {
      svg.append('rect')
        .attr('x', x0).attr('y', y0).attr('width', x1 - x0).attr('height', y1 - y0)
        .attr('fill', '#fff').attr('stroke', ink).attr('stroke-width', 2);
    };
    const legendLine = (x0, x1, yy, color) => {
      svg.append('line').attr('x1', x0).attr('x2', x1).attr('y1', yy).attr('y2', yy)
        .attr('stroke', color).attr('stroke-width', 1.5);
    };
    const legendText = (lx, ly, s, size, sx = 1) => {
      svg.append('g').attr('transform', `translate(${lx},${ly}) scale(${sx},1)`)
        .append('text').attr('font-family', serif).attr('font-size', size).attr('fill', ink).text(s);
    };

    legendBox(1360, 84, 1540.7, 242.7);
    legendLine(1378, 1470, 109.3, ink);
    legendLine(1378, 1470, 156.7, '#ee2028');
    legendLine(1378, 1470, 211, '#0a9f4c');
    legendText(1480, 121.7, '|B|', 23, 1.3);
    legendText(1480, 156.7, 'B', 32);
    legendText(1501, 171.7, 'X', 23);
    legendText(1480, 210.7, 'B', 32);
    legendText(1501, 225, 'Y', 23);

    legendBox(1363.3, 472.3, 1540, 538.3);
    legendLine(1381.7, 1472.7, 504.3, '#2b3990');
    legendText(1483, 503.3, 'B', 32);
    legendText(1504, 519, 'Z', 23);

    legendBox(1355.7, 1347.7, 1540.8, 1520.7);
    legendLine(1373, 1462.4, 1379, ink);
    legendLine(1373, 1462.4, 1434, '#ee2028');
    legendLine(1373, 1462.4, 1489, '#2b3990');
    legendText(1473, 1378.3, 'P', 32);
    legendText(1492, 1393.3, 'tot', 24);
    legendText(1473, 1433.3, 'P', 32);
    legendText(1492, 1448, 'B', 24);
    legendText(1473, 1488.3, 'P', 32);
    legendText(1492, 1501, 'p', 24);

    // annotations
    const arrow = (x1, y1, x2, y2, w = 2.2, len = 16, half = 5.5) => {
      const a = Math.atan2(y2 - y1, x2 - x1);
      const c = Math.cos(a), s = Math.sin(a);
      svg.append('line')
        .attr('x1', x1).attr('y1', y1).attr('x2', x2 - len * 0.6 * c).attr('y2', y2 - len * 0.6 * s)
        .attr('stroke', ink).attr('stroke-width', w);
      const bx = x2 - len * c, by = y2 - len * s;
      svg.append('path')
        .attr('d', `M${x2},${y2}L${bx - s * half},${by + c * half}L${x2 - len * 0.7 * c},${y2 - len * 0.7 * s}L${bx + s * half},${by - c * half}Z`)
        .attr('fill', ink);
    };
    arrow(454.8, 10, 358.2, 62.3);
    arrow(487.7, 13.3, 495, 55);

    const shockX = plotLeft + x(new Date(shockTimes[0]));
    arrow(729.6, 666.7, shockX + 6, 697.7, 2.4, 17, 6);

    svg.append('text')
      .attr('x', 744).attr('y', 671.7)
      .attr('font-family', sans).attr('font-size', 57.5).attr('fill', '#7b1c40')
      .text('shock = arrival time');

    modelNames.forEach((name, j) => {
      svg.append('text')
        .attr('x', 181).attr('y', [638, 692.7, 746][j])
        .attr('font-family', sans).attr('font-size', 35).attr('fill', modelColors[j])
        .text(name);
    });

    svg.append('text')
      .attr('x', 421.7).attr('y', 894)
      .attr('font-family', sans).attr('font-size', 35).attr('fill', ink)
      .text('shock');
    svg.append('text')
      .attr('x', 618).attr('y', 880)
      .attr('font-family', sans).attr('font-size', 35).attr('fill', ink)
      .text('sheath');
    svg.append('line')
      .attr('x1', 526.7).attr('x2', shockX - 1).attr('y1', 884).attr('y2', 884)
      .attr('stroke', ink).attr('stroke-width', 1.6);
    svg.append('path')
      .attr('d', `M${shockX - 11},${878}L${shockX - 1},${884}L${shockX - 11},${890}`)
      .attr('fill', 'none').attr('stroke', ink).attr('stroke-width', 1.6);
  }, []);

  return (
    <svg
      ref={svgRef}
      width={1558}
      height={1700}
      style={{ position: 'absolute', left: 0, top: 0, background: '#fff' }}
    />
  );
};

export default function App() {
  return <SolarWindPanels />;
}
